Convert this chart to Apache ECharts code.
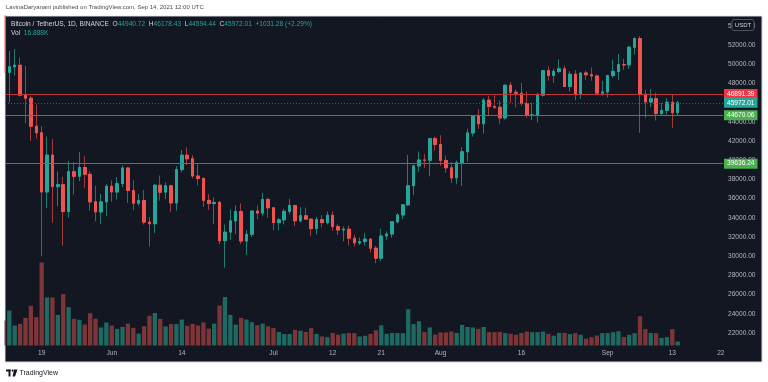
<!DOCTYPE html>
<html><head><meta charset="utf-8">
<script src="https://cdn.jsdelivr.net/npm/echarts@6/dist/echarts.min.js"></script>
<style>html,body{margin:0;padding:0;background:#fff}#c{width:768px;height:382px}</style>
</head><body><div id="c"></div>
<script>
// ---- data (BTC/USDT daily, 2021) ----
const dates = ['05-12','05-13','05-14','05-15','05-16','05-17','05-18','05-19','05-20','05-21','05-22','05-23','05-24','05-25','05-26','05-27','05-28','05-29','05-30','05-31',
'06-01','06-02','06-03','06-04','06-05','06-06','06-07','06-08','06-09','06-10','06-11','06-12','06-13','06-14','06-15','06-16','06-17','06-18','06-19','06-20','06-21','06-22','06-23','06-24','06-25','06-26','06-27','06-28','06-29','06-30',
'07-01','07-02','07-03','07-04','07-05','07-06','07-07','07-08','07-09','07-10','07-11','07-12','07-13','07-14','07-15','07-16','07-17','07-18','07-19','07-20','07-21','07-22','07-23','07-24','07-25','07-26','07-27','07-28','07-29','07-30','07-31',
'08-01','08-02','08-03','08-04','08-05','08-06','08-07','08-08','08-09','08-10','08-11','08-12','08-13','08-14','08-15','08-16','08-17','08-18','08-19','08-20','08-21','08-22','08-23','08-24','08-25','08-26','08-27','08-28','08-29','08-30','08-31',
'09-01','09-02','09-03','09-04','09-05','09-06','09-07','09-08','09-09','09-10','09-11','09-12','09-13','09-14'];
const opens = [56700,49150,49716,49880,46760,46450,43538,42850,36690,40526,37252,37449,34655,38796,38324,39241,38529,35663,34606,35659,
37294,36687,37568,39187,36841,35520,35797,33556,33380,37389,36677,37332,35547,39021,40516,40143,38349,38100,35820,35483,35601,31614,32510,33675,34663,31576,32283,34702,34494,35912,
35045,33502,33786,34669,35288,33690,34221,33863,32875,33815,33502,34259,33086,32730,32820,31875,31383,31521,31778,30839,29796,32110,32314,33581,34292,35351,37338,39406,40020,39995,42236,
41626,39974,39202,38152,39747,40865,42833,44614,43794,46248,45585,45510,44400,47800,47068,46973,45902,44695,44709,46760,49322,48821,49240,49507,47674,48952,46843,49078,48895,48767,46982,
47100,48810,49246,49942,49922,51756,52666,46868,46048,46395,44843,45173,46026,44940.72];
const highs = [58000,51367,51569,50700,49800,46650,45800,43546,42451,42200,38830,38270,39920,39791,40841,40411,38856,37338,36488,37499,
37894,38226,39476,39289,37915,36480,36900,34068,37534,38400,37680,37437,39380,41064,41330,40527,39560,38208,36457,36137,35750,33298,34881,35298,35500,32730,34749,35297,36600,36100,
35057,33977,34945,35967,35293,35118,35059,33910,34100,34263,34666,34678,33340,33114,33185,32249,31955,32436,31899,31063,32858,32591,33650,34500,35398,40550,39542,40900,40640,42316,42448,
42599,40476,39780,39970,41350,43271,44700,45310,46454,46700,46743,46218,47886,48144,47372,48053,47160,46000,47033,49382,49757,49500,50500,49856,49264,49380,49187,49300,49658,48915,48250,
48888,50450,51052,50560,51900,52780,52920,47340,47400,47033,45980,46460,46880,46178.43];
const lows = [48600,46000,48805,46650,43825,42001,42250,30000,35000,33488,35200,31111,34031,36419,37800,37134,34779,33632,33379,34154,
35666,35920,37170,35567,34800,35258,33300,31000,32397,35787,35937,34600,34757,38730,39506,38117,37365,35129,34803,33336,31251,28805,31683,32286,31275,30151,32000,33862,34225,34017,
32711,32700,33316,34357,33125,33532,33777,32077,32261,33004,33306,32658,32203,31550,31133,31021,31164,31109,30407,29278,29482,31708,31925,33401,33851,35205,36384,38772,39200,38313,41000,
39422,38690,37643,37508,37332,39853,42446,43261,42779,44589,45341,43770,44217,45971,45500,45660,44376,44203,43927,46622,48263,48050,49029,47600,47126,46250,46360,48346,48263,46853,46700,
46512,48584,48346,49400,49500,50969,42843,44412,45514,44132,44723,44742,43370,44594.44];
const closes = [49150,49716,49880,46760,46450,43538,42850,36690,40526,37252,37449,34655,38796,38324,39241,38529,35663,34606,35658,37294,
36687,37555,39187,36851,35520,35796,33552,33380,37389,36662,37334,35546,39020,40516,40144,38349,38092,35820,35483,35600,31608,32509,33678,34664,31584,32283,34700,34494,35911,35045,
33504,33786,34669,35287,33690,34220,33863,32875,33815,33502,34259,33086,32730,32820,31880,31383,31520,31778,30839,29796,32110,32313,33581,34292,35350,37337,39406,40020,39995,42235,41626,
39975,39202,38152,39747,40869,42836,44614,43792,46253,45584,45511,44399,47800,47068,46974,45901,44695,44705,46760,49322,48821,49239,49508,47674,48952,46843,49069,48895,48767,46982,47100,
48810,49246,49942,49922,51756,52663,46864,46048,46396,44851,45173,46026,44940.73,45972.01];
const volumes = [105,147,84,91,116,167,119,349,202,202,129,216,161,112,108,88,136,113,76,97,
84,70,78,92,74,50,81,125,137,112,80,90,90,109,83,91,84,97,71,92,168,204,129,88,116,109,98,85,92,81,
74,57,48,48,66,62,57,73,49,38,35,53,46,50,53,52,38,41,49,64,85,49,53,52,52,153,90,102,56,76,46,
55,55,59,53,87,78,76,70,78,56,56,57,52,49,45,53,59,56,56,59,49,41,53,53,48,52,45,29,35,42,52,
52,56,60,36,45,52,123,69,53,52,32,35,69,16.888];
const levels = [46891.39, 45972.01, 44670.06, 39636.24];
const timeLabelDates = ['05-19','06-01','06-14','07-01','07-12','07-21','08-01','08-16','09-01','09-13','09-22'];
const priceTicks = [22000,24000,26000,28000,30000,32000,34000,36000,38000,40000,42000,44000,46000,48000,50000,52000,54000];

// ---- styles ----
const FONT = '"Liberation Sans", Arial, sans-serif';
const upColor = '#26a69a', downColor = '#ef5350';
const upWick = '#1f7d72', downWick = '#a03c3e';
const upVol = '#1e6a63', downVol = '#7e3538';
const levelLine = ['#c0353a', '#1f6f69', '#3f8a4a', '#3f8a4a'];
const levelBox = ['#f23645', '#26a69a', '#4caf50', '#4caf50'];
const DAY = 86400000;
const ts = d => Date.UTC(2021, +d.slice(0, 2) - 1, +d.slice(3, 5));
const anchor = ts('05-13');
const xMin = anchor - 0.8 * DAY, xMax = anchor + 132.4 * DAY;
const months = ['Jan','Feb','Mar','Apr','May','Jun','Jul','Aug','Sep','Oct','Nov','Dec'];
const timeLabelValues = timeLabelDates.map(ts);

const wickData = dates.map((d, i) => [ts(d), opens[i], closes[i], lows[i], highs[i]]);
const bodyData = dates.map((d, i) => [ts(d), opens[i], closes[i], Math.min(opens[i], closes[i]), Math.max(opens[i], closes[i])]);
const volData = dates.map((d, i) => ({ value: [ts(d), volumes[i]], itemStyle: { color: closes[i] >= opens[i] ? upVol : downVol } }));

const chart = echarts.init(document.getElementById('c'), null, { renderer: 'canvas' });
chart.setOption({
  animation: false,
  backgroundColor: '#ffffff',
  grid: [
    { left: 5, right: 45, top: 16, bottom: 29.7 },
    { left: 5, right: 45, top: 261.1, bottom: 36.5 }
  ],
  xAxis: [
    { type: 'value', gridIndex: 0, min: xMin, max: xMax, show: false, scale: true },
    { type: 'value', gridIndex: 1, min: xMin, max: xMax, scale: true,
      axisLine: { show: false }, axisTick: { show: false }, splitLine: { show: false },
      axisLabel: {
        customValues: timeLabelValues,
        margin: 4, color: '#b2b5be', fontSize: 6.6, fontFamily: FONT,
        formatter: v => { if (timeLabelValues.indexOf(v) < 0) return ''; const d = new Date(v); return d.getUTCDate() === 1 ? months[d.getUTCMonth()] : String(d.getUTCDate()); }
      } }
  ],
  yAxis: [
    { type: 'value', gridIndex: 0, position: 'right', min: 20000, max: 55008, interval: 2000,
      axisLine: { show: false }, axisTick: { show: false }, splitLine: { show: false },
      axisLabel: { margin: 5, color: '#b2b5be', fontSize: 6.6, fontFamily: FONT, showMaxLabel: false,
        formatter: v => priceTicks.indexOf(v) >= 0 ? v.toFixed(2) : '' } },
    { type: 'value', gridIndex: 1, min: 0, max: 355, show: false }
  ],
  series: [
    { type: 'bar', name: 'vol', xAxisIndex: 1, yAxisIndex: 1, data: volData, barWidth: 4.3, z: 1 },
    { type: 'candlestick', name: 'wick', xAxisIndex: 0, yAxisIndex: 0, data: wickData, barWidth: 3, z: 3,
      itemStyle: { color: upWick, color0: downWick, borderColor: upWick, borderColor0: downWick, borderWidth: 1 } },
    { type: 'candlestick', name: 'body', xAxisIndex: 0, yAxisIndex: 0, data: bodyData, barWidth: 3, z: 4,
      itemStyle: { color: upColor, color0: downColor, borderColor: upColor, borderColor0: downColor, borderWidth: 1 },
      markLine: {
        symbol: 'none', silent: true, animation: false,
        data: levels.map((v, i) => ({
          yAxis: v,
          lineStyle: { color: levelLine[i], width: 1, type: i === 1 ? [1, 2] : 'solid' },
          label: { show: true, position: 'end', distance: 1, formatter: v.toFixed(2),
            backgroundColor: levelBox[i], color: '#ffffff', fontSize: 6.6, fontFamily: FONT, padding: [2, 3, 1, 3] }
        }))
      } }
  ],
  graphic: [
    { type: 'rect', z: -100, shape: { x: 5, y: 16, width: 757, height: 346 }, style: { fill: '#131722', stroke: '#cfd2d8', lineWidth: 1 } },
    // page margins outside the chart frame (mask overflow of the cut-off first candle)
    { type: 'rect', z: 40, shape: { x: 0, y: 0, width: 768, height: 15.5 }, style: { fill: '#ffffff' } },
    { type: 'rect', z: 40, shape: { x: 0, y: 0, width: 4.5, height: 382 }, style: { fill: '#ffffff' } },
    { type: 'text', x: 6, y: 7, z: 60, style: { text: 'LavinaDaryanani published on TradingView.com, Sep 14, 2021 12:00 UTC', fill: '#4a4a4a', fontSize: 6, fontFamily: FONT, verticalAlign: 'middle' } },
    { type: 'text', x: 11, y: 24, z: 60, style: {
      text: '{t|Bitcoin / TetherUS, 1D, BINANCE}  {l|O}{v|44940.72}  {l|H}{v|46178.43}  {l|L}{v|44594.44}  {l|C}{v|45972.01}  {v|+1031.28 (+2.29%)}',
      verticalAlign: 'middle', fontSize: 6.6, fontFamily: FONT,
      rich: { t: { fill: '#d1d4dc', fontSize: 6.6, fontFamily: FONT }, l: { fill: '#d1d4dc', fontSize: 6.6, fontFamily: FONT }, v: { fill: '#26a69a', fontSize: 6.6, fontFamily: FONT } } } },
    { type: 'text', x: 11, y: 33, z: 60, style: {
      text: '{l|Vol}  {v|16.888K}', verticalAlign: 'middle', fontSize: 6.6, fontFamily: FONT,
      rich: { l: { fill: '#d1d4dc', fontSize: 6.6, fontFamily: FONT }, v: { fill: '#26a69a', fontSize: 6.6, fontFamily: FONT } } } },
    { type: 'rect', z: 50, shape: { x: 732, y: 19.5, width: 22, height: 11, r: 2 }, style: { fill: '#131722', stroke: '#50535e', lineWidth: 1 } },
    { type: 'text', z: 51, x: 743, y: 25.2, style: { text: 'USDT', fill: '#d1d4dc', fontSize: 6, fontFamily: FONT, align: 'center', verticalAlign: 'middle' } },
    { type: 'rect', z: 60, shape: { x: 6, y: 369.5, width: 4.5, height: 2 }, style: { fill: '#131722' } },
    { type: 'rect', z: 60, shape: { x: 8.5, y: 369.5, width: 2, height: 7 }, style: { fill: '#131722' } },
    { type: 'circle', z: 60, shape: { cx: 12.6, cy: 370.6, r: 1.1 }, style: { fill: '#131722' } },
    { type: 'polygon', z: 60, shape: { points: [[14, 369.5], [17.5, 369.5], [15, 376.5], [12.6, 376.5]] }, style: { fill: '#131722' } },
    { type: 'text', x: 19.5, y: 373, z: 60, style: { text: 'TradingView', fill: '#131722', fontSize: 7, fontFamily: FONT, verticalAlign: 'middle' } }
  ]
});
</script></body></html>
